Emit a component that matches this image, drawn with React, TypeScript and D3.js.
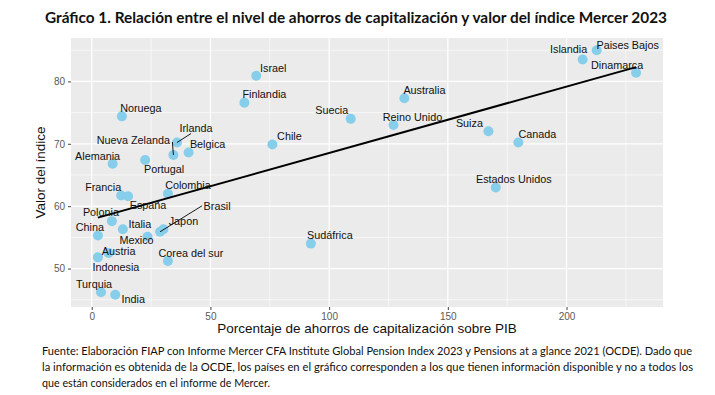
import { useRef, useEffect } from 'react';
import * as d3 from 'd3';

const W = 715;
const H = 395;
const PANEL = { left: 71, right: 663, top: 38, bottom: 307 };

const countries = [
  'Israel', 'Finlandia', 'Noruega', 'Irlanda', 'Nueva Zelanda', 'Belgica', 'Alemania', 'Portugal',
  'Chile', 'Francia', 'España', 'Colombia', 'Polonia', 'Italia', 'China', 'Mexico', 'Japon',
  'Brasil', 'Austria', 'Indonesia', 'Corea del sur', 'Turquia', 'India', 'Australia', 'Suecia',
  'Reino Unido', 'Suiza', 'Canada', 'Sudáfrica', 'Estados Unidos', 'Islandia', 'Paises Bajos', 'Dinamarca',
];
const savingsPct = [
  69.3, 64.3, 12.7, 35.9, 34.4, 40.8, 8.8, 22.5,
  76.1, 12.4, 15.3, 32.1, 8.5, 13.1, 2.6, 23.5, 30.2,
  28.8, 7.1, 2.6, 32.1, 3.9, 9.9, 131.7, 109.1,
  127.1, 167.1, 179.7, 92.3, 170.2, 206.8, 212.7, 229.3,
];
const mercerIndex = [
  80.9, 76.6, 74.4, 70.2, 68.2, 68.6, 66.8, 67.4,
  69.9, 61.7, 61.6, 62.0, 57.6, 56.3, 55.3, 55.1, 56.3,
  55.9, 52.5, 51.8, 51.2, 46.2, 45.8, 77.3, 74.0,
  73.0, 72.0, 70.2, 54.0, 63.0, 83.5, 85.0, 81.4,
];

// label placement (pixel offsets from the point, like ggrepel output)
const labelDx = [
  17, 20, 19, 19, -40, 19, -15, 19,
  17, -18, 20, 20, -11, 17, -8, -11, 20,
  57, 10, 18, 23, -7, 18, 20, -19,
  19, -19, 19, 19, 18, -14, 31, -19,
];
const labelDy = [
  -8, -8, -8, -14, -15, -8, -8, 9,
  -8, -8, 9, -8, -9, -5, -8, 3, -8,
  -26, -2, 10, -8, -8, 4, -8, -9,
  -8, -8, -8, -8, -8, -10, -5, -7,
];
const segments = [
  { name: 'Irlanda', dx: 14, dy: -9 },
  { name: 'Nueva Zelanda', dx: -1, dy: -13 },
  { name: 'Brasil', dx: 42, dy: -26 },
];

const xTicks = [0, 50, 100, 150, 200];
const yTicks = [50, 60, 70, 80];

const title = 'Gráfico 1. Relación entre el nivel de ahorros de capitalización y valor del índice Mercer 2023';
const captionLines = [
  'Fuente: Elaboración FIAP con Informe Mercer CFA Institute Global Pension Index 2023 y Pensions at a glance 2021 (OCDE). Dado que',
  'la información es obtenida de la OCDE, los países en el gráfico corresponden a los que tienen información disponible y no a todos los',
  'que están considerados en el informe de Mercer.',
];

export default function App() {
  const svgRef = useRef<SVGSVGElement | null>(null);

  useEffect(() => {
    const svg = d3.select(svgRef.current);
    svg.selectAll('*').remove();

    const data = countries.map((c, i) => ({ c, x: savingsPct[i], y: mercerIndex[i], dx: labelDx[i], dy: labelDy[i] }));
    const xExt = d3.extent(savingsPct) as [number, number];
    const yExt = d3.extent(mercerIndex) as [number, number];
    const xPad = (xExt[1] - xExt[0]) * 0.05;
    const yPad = (yExt[1] - yExt[0]) * 0.05;
    const x = d3.scaleLinear().domain([xExt[0] - xPad, xExt[1] + xPad]).range([PANEL.left, PANEL.right]);
    const y = d3.scaleLinear().domain([yExt[0] - yPad, yExt[1] + yPad]).range([PANEL.bottom, PANEL.top]);

    svg.append('rect').attr('width', W).attr('height', H).attr('fill', '#fff');

    svg.append('text').attr('x', 45).attr('y', 23)
      .attr('font-family', 'Lato, "Open Sans", sans-serif').attr('font-weight', 700)
      .attr('font-size', 14.5).attr('fill', '#111')
      .attr('textLength', 622).attr('lengthAdjust', 'spacingAndGlyphs').text(title);

    svg.append('rect').attr('x', PANEL.left).attr('y', PANEL.top)
      .attr('width', PANEL.right - PANEL.left).attr('height', PANEL.bottom - PANEL.top)
      .attr('fill', '#ebebeb');

    const g = svg.append('g');
    const xMinor = [25, 75, 125, 175, 225];
    const yMinor = [45, 55, 65, 75, 85];
    xMinor.forEach(v => g.append('line').attr('x1', x(v)).attr('x2', x(v))
      .attr('y1', PANEL.top).attr('y2', PANEL.bottom).attr('stroke', '#fff').attr('stroke-width', 0.6));
    yMinor.forEach(v => g.append('line').attr('y1', y(v)).attr('y2', y(v))
      .attr('x1', PANEL.left).attr('x2', PANEL.right).attr('stroke', '#fff').attr('stroke-width', 0.6));
    xTicks.forEach(v => g.append('line').attr('x1', x(v)).attr('x2', x(v))
      .attr('y1', PANEL.top).attr('y2', PANEL.bottom).attr('stroke', '#fff').attr('stroke-width', 1.2));
    yTicks.forEach(v => g.append('line').attr('y1', y(v)).attr('y2', y(v))
      .attr('x1', PANEL.left).attr('x2', PANEL.right).attr('stroke', '#fff').attr('stroke-width', 1.2));

    // axes
    const ax = svg.append('g').attr('transform', `translate(0,${PANEL.bottom})`)
      .call(d3.axisBottom(x).tickValues(xTicks).tickSize(3).tickPadding(3));
    const ay = svg.append('g').attr('transform', `translate(${PANEL.left},0)`)
      .call(d3.axisLeft(y).tickValues(yTicks).tickSize(3).tickPadding(3));
    [ax, ay].forEach(a => {
      a.select('.domain').remove();
      a.selectAll('line').attr('stroke', '#444');
      a.selectAll('text').attr('fill', '#5a5a5a').attr('font-size', 10)
        .attr('font-family', '"Liberation Sans", Arial, sans-serif');
    });

    svg.append('text').attr('x', (PANEL.left + PANEL.right) / 2).attr('y', 333)
      .attr('text-anchor', 'middle').attr('font-size', 13.5).attr('fill', '#111')
      .attr('font-family', '"Liberation Sans", Arial, sans-serif')
      .text('Porcentaje de ahorros de capitalización sobre PIB');
    svg.append('text').attr('transform', `translate(45,${(PANEL.top + PANEL.bottom) / 2}) rotate(-90)`)
      .attr('text-anchor', 'middle').attr('font-size', 13.5).attr('fill', '#111')
      .attr('font-family', '"Liberation Sans", Arial, sans-serif')
      .text('Valor del índice');

    // points
    g.selectAll('circle.pt').data(data).join('circle').attr('class', 'pt')
      .attr('cx', d => x(d.x)).attr('cy', d => y(d.y)).attr('r', 5)
      .attr('fill', '#87ceeb');

    // linear fit
    const mx = d3.mean(savingsPct) as number;
    const my = d3.mean(mercerIndex) as number;
    const sxy = d3.sum(data, d => (d.x - mx) * (d.y - my));
    const sxx = d3.sum(data, d => (d.x - mx) ** 2);
    const slope = sxy / sxx;
    const icpt = my - slope * mx;
    g.append('line')
      .attr('x1', x(xExt[0])).attr('y1', y(icpt + slope * xExt[0]))
      .attr('x2', x(xExt[1])).attr('y2', y(icpt + slope * xExt[1]))
      .attr('stroke', '#000').attr('stroke-width', 2);

    // repel segments
    segments.forEach(s => {
      const d = data.find(p => p.c === s.name)!;
      g.append('line').attr('x1', x(d.x)).attr('y1', y(d.y))
        .attr('x2', x(d.x) + s.dx).attr('y2', y(d.y) + s.dy)
        .attr('stroke', '#000').attr('stroke-width', 0.9);
    });

    g.selectAll('text.lab').data(data).join('text').attr('class', 'lab')
      .attr('x', d => x(d.x) + d.dx).attr('y', d => y(d.y) + d.dy)
      .attr('text-anchor', 'middle').attr('dy', '0.35em')
      .attr('font-size', 10.8).attr('fill', '#111')
      .attr('font-family', '"Liberation Sans", Arial, sans-serif')
      .text(d => d.c);

    // caption
    const widths = [650, 651, 228];
    captionLines.forEach((t, i) => {
      svg.append('text').attr('x', 42).attr('y', 355 + i * 16)
        .attr('font-family', 'Lato, "Open Sans", sans-serif').attr('font-size', 11).attr('fill', '#111')
        .attr('textLength', widths[i]).attr('lengthAdjust', 'spacingAndGlyphs').text(t);
    });
  }, []);

  return <svg ref={svgRef} width={W} height={H} style={{ position: 'absolute', left: 0, top: 0 }} />;
}
